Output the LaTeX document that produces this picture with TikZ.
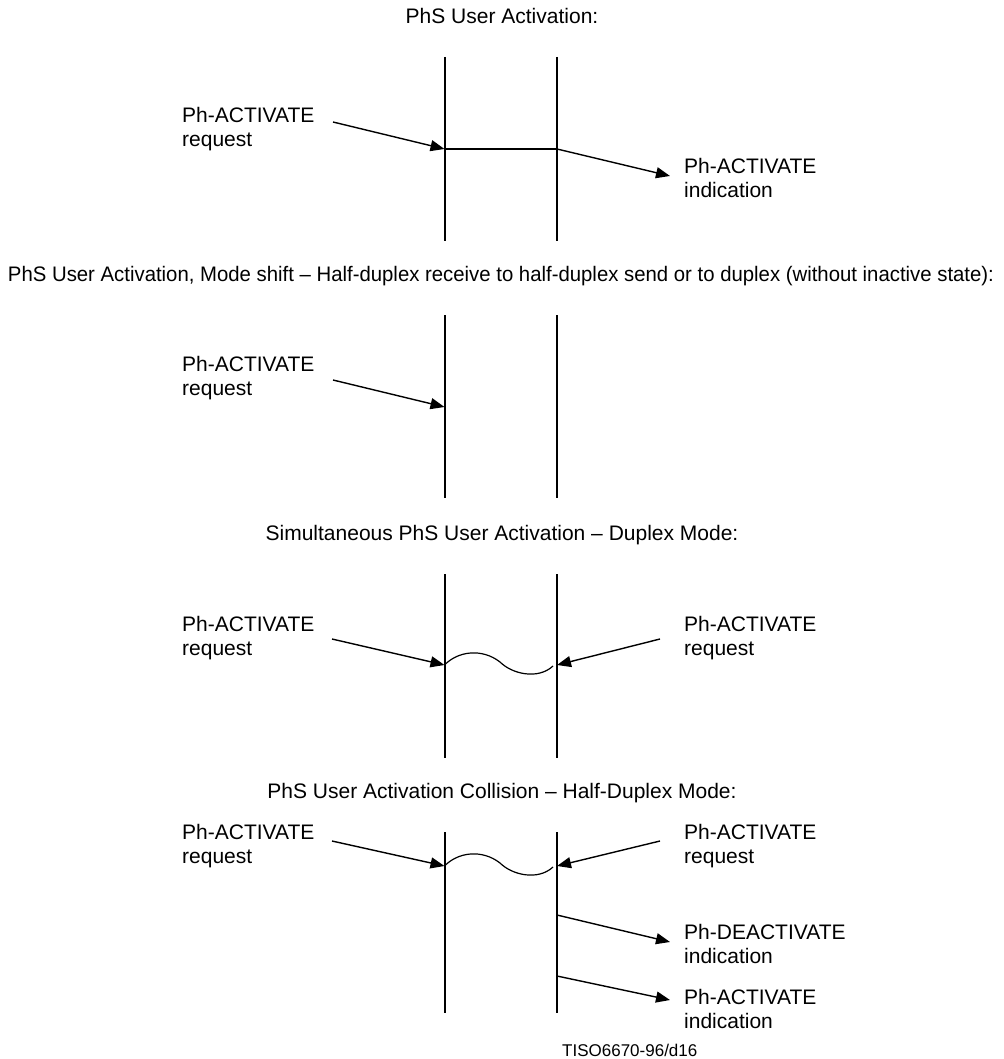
\documentclass[tikz,border=0pt]{standalone}
\usepackage{fontspec}
\setmainfont{Liberation Sans}
\usetikzlibrary{arrows.meta}
\begin{document}
\begin{tikzpicture}[x=1pt,y=-1pt,
  lifeline/.style={line width=2pt},
  msg/.style={line width=1.4pt,-{Triangle[length=14pt,width=11pt]}},
  wavy/.style={line width=1.2pt},
  lbl/.style={inner sep=0pt,align=left,anchor=north west,font=\fontsize{21}{24}\selectfont},
  ttl/.style={inner sep=0pt,anchor=base,font=\fontsize{21}{24}\selectfont},
  fig/.style={inner sep=0pt,anchor=base west,font=\fontsize{17}{20}\selectfont}]
\useasboundingbox[fill=white] (0,0) rectangle (1003,1059);

% ---------- Section 1 ----------
\node[ttl] (t1) at (502,24) {PhS User Activation:};
\coordinate (a1t) at (444.5,57);  \coordinate (a1b) at (444.5,241);
\coordinate (b1t) at (557,57);    \coordinate (b1b) at (557,241);
\draw[lifeline] (a1t) -- (a1b);
\draw[lifeline] (b1t) -- (b1b);
\coordinate (a1m) at (444.5,149); \coordinate (b1m) at (557,149);
\draw[line width=2.6pt] (a1m) -- (b1m);
\node[lbl] (r1) at (182,107) {Ph-ACTIVATE\\request};
\coordinate (r1s) at (333,122);
\draw[msg] (r1s) -- (a1m);
\node[lbl] (i1) at (684,158) {Ph-ACTIVATE\\indication};
\coordinate (i1e) at (670,176);
\draw[msg] (b1m) -- (i1e);

% ---------- Section 2 ----------
\node[ttl] (t2) at (501,281) {\resizebox{986pt}{\height}{PhS User Activation, Mode shift -- Half-duplex receive to half-duplex send or to duplex (without inactive state):}};
\coordinate (a2t) at (444.5,315); \coordinate (a2b) at (444.5,498);
\coordinate (b2t) at (557,315);   \coordinate (b2b) at (557,498);
\draw[lifeline] (a2t) -- (a2b);
\draw[lifeline] (b2t) -- (b2b);
\node[lbl] (r2) at (182,356) {Ph-ACTIVATE\\request};
\coordinate (r2s) at (333,380);
\coordinate (a2m) at (444.5,407);
\draw[msg] (r2s) -- (a2m);

% ---------- Section 3 ----------
\node[ttl] (t3) at (502,540) {Simultaneous PhS User Activation -- Duplex Mode:};
\coordinate (a3t) at (444.5,574); \coordinate (a3b) at (444.5,758);
\coordinate (b3t) at (557,574);   \coordinate (b3b) at (557,758);
\draw[lifeline] (a3t) -- (a3b);
\draw[lifeline] (b3t) -- (b3b);
\node[lbl] (r3) at (182,616) {Ph-ACTIVATE\\request};
\node[lbl] (r3r) at (684,616) {Ph-ACTIVATE\\request};
\coordinate (r3s) at (332,639);
\coordinate (r3rs) at (660,639);
\coordinate (a3m) at (444.5,665);
\coordinate (b3m) at (557,665);
\draw[msg] (r3s) -- (a3m);
\draw[msg] (r3rs) -- (b3m);
\coordinate (w3e) at (553,666);
\draw[wavy] (a3m) .. controls (458,651) and (482,648) .. (500,662)
                  .. controls (512,674) and (538,680) .. (w3e);

% ---------- Section 4 ----------
\node[ttl] (t4) at (502,798) {PhS User Activation Collision -- Half-Duplex Mode:};
\coordinate (a4t) at (444.5,832); \coordinate (a4b) at (444.5,1013);
\coordinate (b4t) at (557,832);   \coordinate (b4b) at (557,1013);
\draw[lifeline] (a4t) -- (a4b);
\draw[lifeline] (b4t) -- (b4b);
\node[lbl] (r4) at (182,824) {Ph-ACTIVATE\\request};
\node[lbl] (r4r) at (684,824) {Ph-ACTIVATE\\request};
\coordinate (r4s) at (332,841);
\coordinate (r4rs) at (660,841);
\coordinate (a4m) at (444.5,866);
\coordinate (b4m) at (557,866);
\draw[msg] (r4s) -- (a4m);
\draw[msg] (r4rs) -- (b4m);
\coordinate (w4e) at (553,867);
\draw[wavy] (a4m) .. controls (458,852) and (482,849) .. (500,863)
                  .. controls (512,875) and (538,881) .. (w4e);
\node[lbl] (d4) at (684,924) {Ph-DEACTIVATE\\indication};
\coordinate (d4s) at (557,915);
\coordinate (d4e) at (670,942);
\draw[msg] (d4s) -- (d4e);
\node[lbl] (i4) at (684,989) {Ph-ACTIVATE\\indication};
\coordinate (i4s) at (557,976);
\coordinate (i4e) at (670,1000);
\draw[msg] (i4s) -- (i4e);

\node[fig] (fig) at (562,1056) {TISO6670-96/d16};
\end{tikzpicture}
\end{document}
